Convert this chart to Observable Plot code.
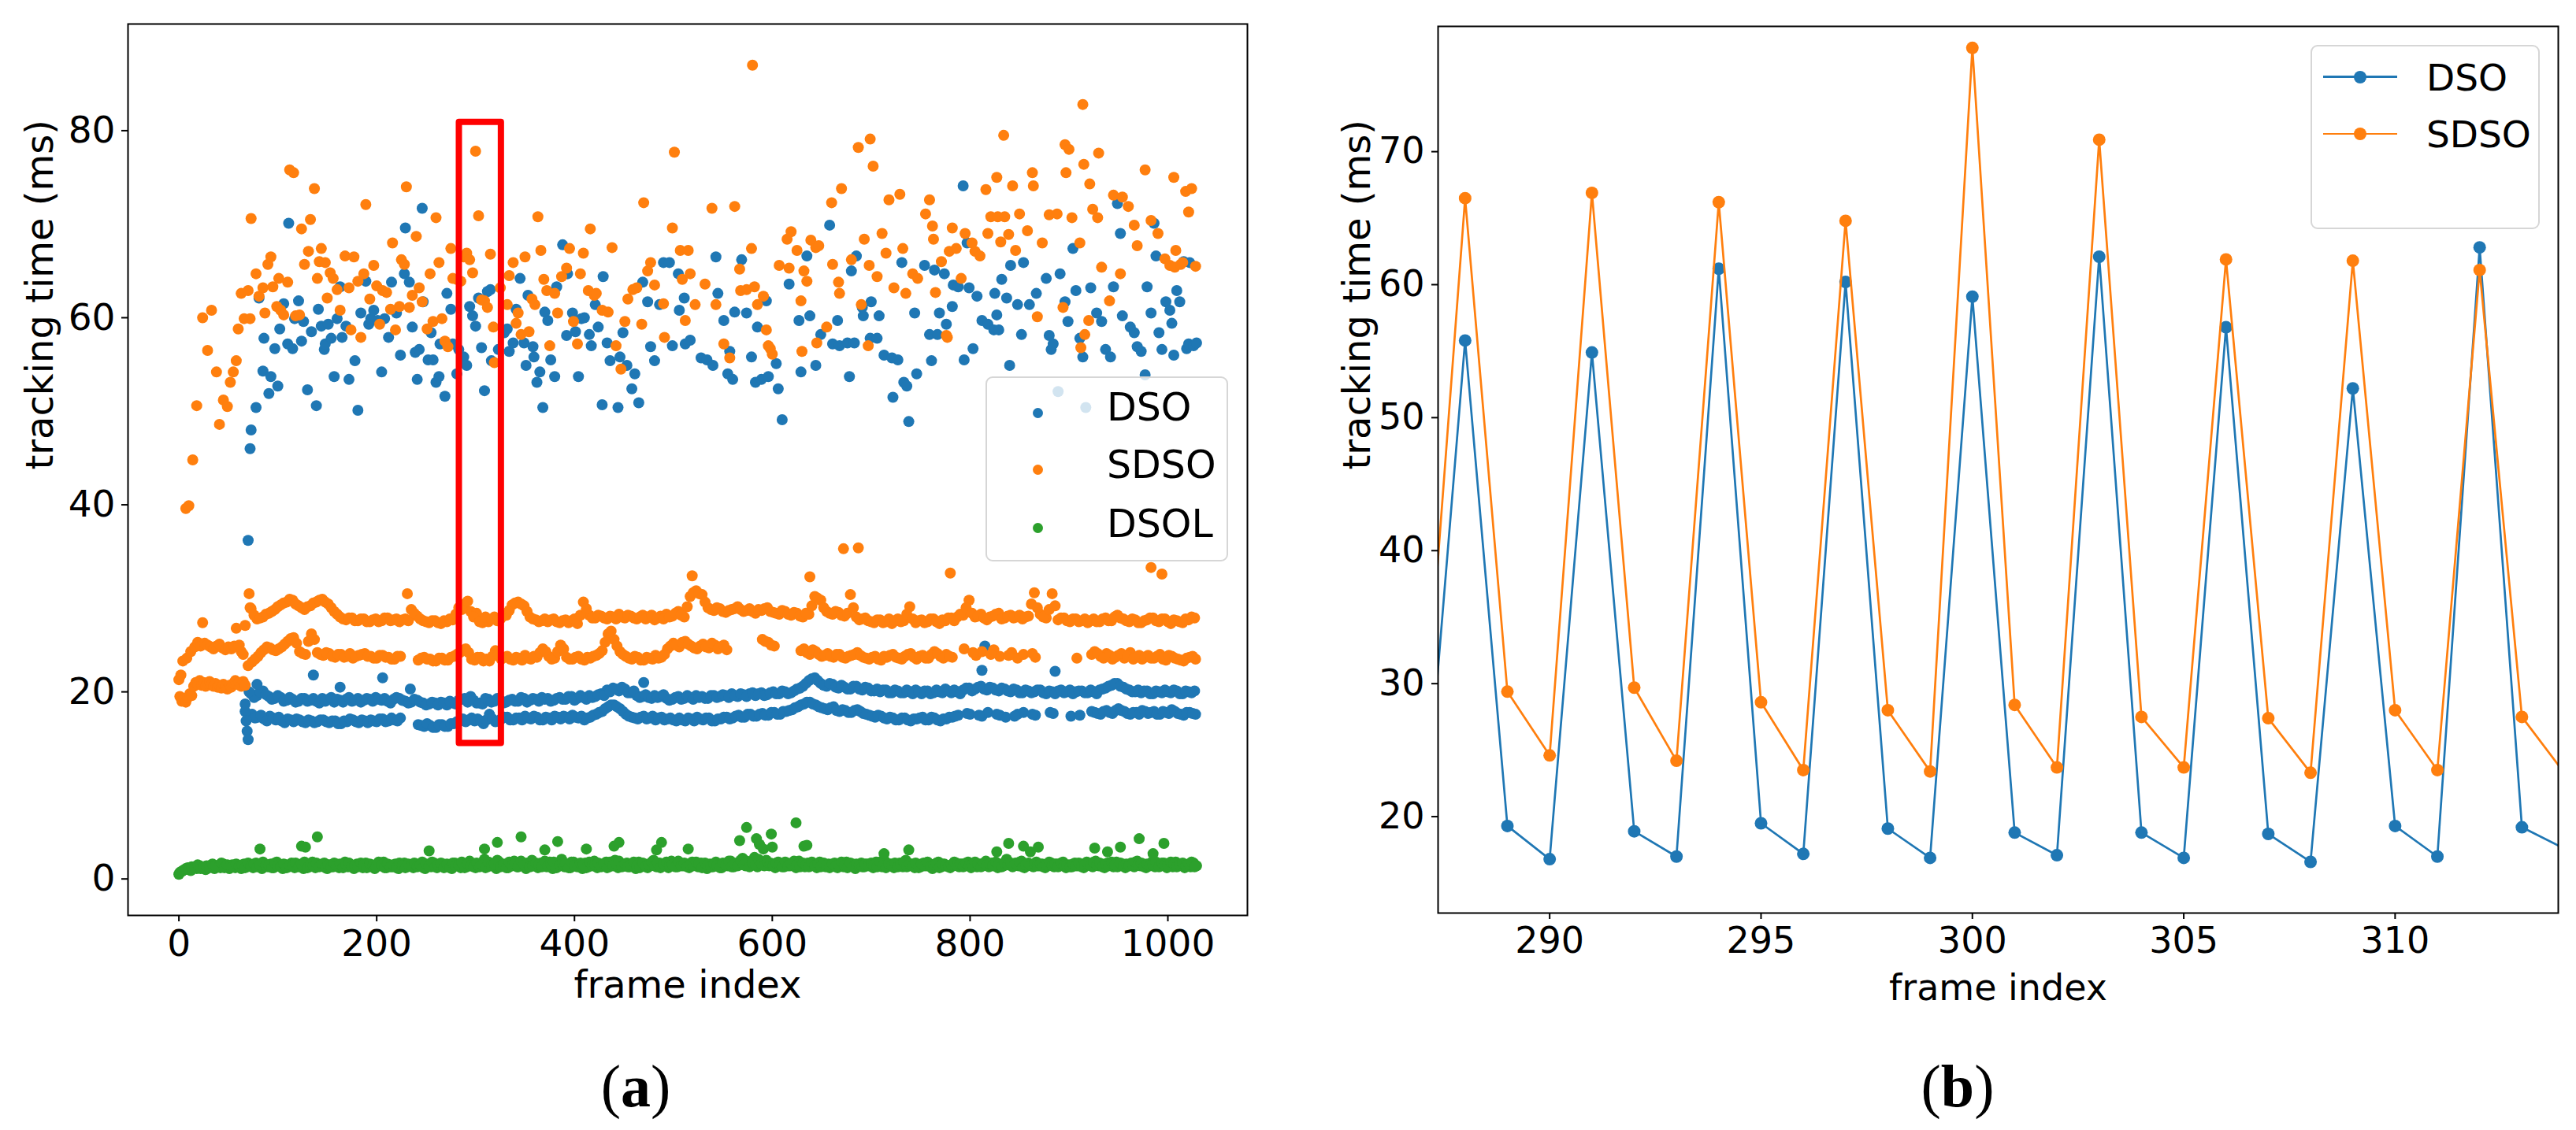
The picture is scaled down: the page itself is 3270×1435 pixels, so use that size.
<!DOCTYPE html>
<html><head><meta charset="utf-8">
<script src="https://cdn.jsdelivr.net/npm/d3@7"></script>
<script src="https://cdn.jsdelivr.net/npm/@observablehq/plot@0.6"></script>
<style>
body{margin:0;background:#fff;}
#fig{position:relative;width:3270px;height:1435px;background:#fff;font-family:"DejaVu Sans",sans-serif;overflow:hidden;}
#left,#right{position:absolute;top:0;}
#left{left:0;} #right{left:1650px;}
.box{position:absolute;box-sizing:border-box;background:rgba(255,255,255,0.8);border:2px solid #d6d6d6;border-radius:9px;}
.lt{position:absolute;line-height:1;white-space:nowrap;color:#000;}
.dot{position:absolute;border-radius:50%;}
.ln{position:absolute;}
.cap{position:absolute;width:400px;text-align:center;font-family:"Liberation Serif",serif;font-size:76px;line-height:1;color:#000;}
</style></head>
<body><div id="fig"><div id="left"></div><div id="right"></div></div>
<script>
// ---------- series meta ----------
const seriesNames = ["DSO", "SDSO", "DSOL"];
const seriesColors = ["#1f77b4", "#ff7f0e", "#2ca02c"];
const xTicksA = [0, 200, 400, 600, 800, 1000];
const yTicksA = [0, 20, 40, 60, 80];
const xTicksB = [290, 295, 300, 305, 310];
const yTicksB = [20, 30, 40, 50, 60, 70];
const zoomWindow = [{x1: 283.5, x2: 326, y1: 14.5, y2: 80.9}];

// ---------- panel (a): DSO ----------
const dsoPeaks = [[72,46.0],[73,48.0],[78,50.4],[81,62.1],[85,54.3],[86,57.8],[91,51.9],[93,53.7],[97,56.7],[100,52.7],[102,58.8],[106,61.5],[110,57.2],[111,70.1],[115,56.7],[117,59.9],[121,61.8],[124,57.5],[126,59.6],[130,52.3],[134,58.5],[139,50.6],[141,60.9],[144,59.1],[147,56.6],[148,57.2],[151,59.3],[154,57.8],[157,53.7],[160,59.9],[163,63.3],[165,57.9],[169,59.1],[172,53.4],[178,55.4],[181,50.1],[184,60.5],[189,63.9],[192,59.3],[194,59.9],[197,60.8],[201,59.7],[205,54.2],[208,59.9],[212,57.9],[215,63.8],[220,60.5],[224,56.0],[228,64.7],[229,69.6],[233,63.8],[236,59.0],[239,56.3],[241,53.4],[243,56.6],[246,71.7],[247,61.7],[252,55.5],[255,58.4],[257,55.5],[260,53.1],[263,53.7],[264,57.2],[269,51.6],[271,62.6],[275,60.9],[277,57.2],[281,54.0],[283,56.6],[286,55.4],[288,55.8],[291,54.9],[294,61.2],[297,60.2],[300,59.1],[303,62.1],[306,56.8],[309,52.2],[312,62.8],[315,63.0],[316,55.4],[323,56.6],[329,58.4],[332,58.8],[334,56.4],[338,57.3],[341,60.9],[345,64.2],[349,57.3],[351,54.9],[353,62.4],[358,56.9],[359,55.8],[362,53.1],[365,54.2],[368,50.4],[370,60.6],[373,59.7],[376,55.5],[380,53.7],[382,63.3],[388,67.8],[392,58.1],[393,64.7],[398,60.5],[401,58.5],[404,53.7],[407,59.9],[410,60.0],[415,58.2],[417,57.0],[421,61.4],[424,59.0],[428,50.7],[429,64.4],[433,57.3],[436,55.4],[444,50.4],[446,55.8],[449,58.4],[453,54.9],[458,52.4],[461,54.0],[465,50.9],[469,63.8],[474,61.7],[477,56.9],[481,55.4],[486,61.4],[490,65.9],
[496,65.9],[499,57.0],[505,64.7],[506,60.8],[511,62.1],[512,57.2],[517,57.6],[528,55.7],[534,55.5],[540,54.9],[543,66.5],[545,62.6],[551,59.7],[555,54.0],[557,56.4],[560,53.4],[562,60.6],[569,66.2],[574,60.5],[579,55.8],[583,53.1],[585,59.0],[589,53.4],[594,61.8],[596,53.7],[604,55.1],[606,52.4],[610,49.1],[617,63.6],[627,59.7],[629,54.2],[635,66.6],[638,60.2],[644,54.9],[649,58.2],[658,69.9],[661,57.2],[666,59.7],[668,57.0],[676,57.3],[678,53.7],[680,65.0],[683,57.3],[685,66.6],[691,61.1],[692,60.2],[699,57.8],[700,61.7],[706,57.8],[708,60.2],[713,56.0],[721,55.7],[722,51.5],[727,55.5],[731,65.9],[733,53.1],[736,52.7],[738,48.9],[744,60.5],[746,54.0],[754,65.6],[759,58.2],[761,55.4],[764,65.1],[767,58.2],[769,60.5],[774,64.7],[776,59.3],[782,61.2],[783,63.5],[788,63.3],[793,74.1],[794,55.5],[797,68.0],[799,63.2],[803,56.7],[807,62.3],[812,59.7],[818,59.3],[824,58.7],[825,62.6],[827,60.3],[829,58.7],[832,64.1],[837,62.1],[840,54.9],[841,65.6],[848,61.4],[852,58.2],[854,65.9],[860,61.4],[867,62.6],[877,64.2],[880,58.1],[882,56.6],[884,57.2],[889,52.1],[891,64.7],[896,61.7],[899,59.6],[904,67.4],[907,62.9],[911,57.8],[914,55.8],[917,50.4],[922,63.2],[928,60.5],[933,59.6],[937,56.6],[942,55.8],[945,63.3],[949,72.2],[952,69.0],[954,60.2],[962,59.0],[966,58.4],[969,56.9],[973,56.4],[977,53.9],[979,63.3],[983,60.5],[986,70.1],[988,66.6],[991,58.4],[994,56.6],[998,61.7],[1002,60.8],[1004,59.4],[1006,56.0],[1009,62.9],[1012,61.7],[1016,66.0],[1019,56.7],[1021,57.2],[1022,65.9],[1026,57.0],[1029,57.3]];
// middle frame of each triple: sampled at 73+6i and 76+6i
const dsoMid = [19.8,19.6,20.1,19.5,19.3,19.4,19.1,19.2,19.0,19.3,19.1,19.0,19.3,19.2,18.9,19.1,19.2,19.0,19.3,19.1,19.2,19.4,19.1,19.0,19.2,19.3,19.0,18.9,19.1,18.8,18.7,18.8,18.9,18.6,18.8,19.1,19.3,19.5,18.8,18.7,19.2,19.0,19.1,18.9,19.2,19.0,19.3,19.1,19.2,19.4,19.3,19.1,19.4,19.2,19.5,19.3,19.4,19.6,19.5,19.8,20.2,20.4,20.1,20.3,19.9,19.6,19.5,19.4,19.6,19.5,19.3,19.2,19.5,19.3,19.4,19.6,19.5,19.3,19.6,19.5,19.6,19.8,19.5,19.7,19.8,19.6,19.9,19.7,20.0,19.8,20.0,19.9,20.3,20.6,21.2,21.5,20.9,20.6,20.8,20.4,20.5,20.3,20.6,20.2,20.4,20.1,20.0,20.2,19.9,20.1,19.9,20.0,20.2,19.8,20.1,19.9,20.0,20.3,19.9,20.0,20.2,20.4,20.3,20.6,20.2,20.4,20.1,20.3,20.0,20.2,19.9,20.1,20.0,20.2,19.8,20.0,20.1,19.9,20.2,20.0,20.1,19.9,20.0,20.2,20.4,20.7,20.9,20.5,20.2,20.0,19.9,20.1,19.8,20.0,20.2,19.9,20.1,19.8,20.0,20.1];
const dsoMid2 = [19.4,20.0,19.7,19.2,19.6,19.0,19.4,18.9,19.3,19.0,19.3,18.8,19.0,19.4,19.2,18.9,19.4,19.1,18.9,19.3,19.0,19.2,19.3,18.8,19.4,19.1,18.8,19.2,18.9,18.6,18.9,18.6,18.8,19.0,18.7,19.2,18.9,19.1,18.8,19.3,18.9,19.3,18.8,19.1,19.0,19.4,18.9,19.3,19.0,19.2,19.0,19.3,19.2,19.5,19.1,19.6,19.2,19.4,19.7,19.6,20.0,20.3,20.5,19.9,20.1,19.4,19.7,19.3,19.4,19.7,19.1,19.4,19.2,19.6,19.2,19.4,19.3,19.6,19.4,19.7,19.4,19.6,19.8,19.5,19.9,19.8,19.6,19.9,19.8,20.1,19.8,20.1,20.4,20.9,21.4,21.2,20.7,20.9,20.5,20.7,20.3,20.6,20.3,20.5,20.1,20.3,20.2,19.9,20.2,19.9,20.2,19.8,20.0,20.1,19.8,20.2,19.9,20.1,20.2,19.8,20.4,20.1,20.5,20.3,20.5,20.2,20.4,20.1,20.3,19.9,20.2,19.9,20.2,19.9,20.1,19.8,20.2,20.0,19.8,20.1,19.9,20.2,19.8,20.3,20.6,20.9,20.6,20.3,20.0,20.2,20.1,19.8,20.1,19.9,20.0,20.2,19.8,20.1,19.9];
// last frame of each triple: sampled at 74+6i and 77+6i
const dsoLow = [17.6,17.3,17.1,17.4,17.0,16.9,17.1,16.8,17.0,16.7,16.9,16.8,17.0,16.7,16.9,16.6,16.8,17.0,16.7,16.9,17.0,16.8,17.1,16.9,17.0,17.2,null,null,16.5,16.3,16.4,16.2,16.5,16.3,16.6,16.9,16.8,17.2,17.1,16.6,17.6,16.8,17.1,17.3,17.0,17.2,17.4,17.1,17.3,17.0,17.2,17.4,17.1,17.3,17.5,17.2,17.0,17.3,17.6,17.9,18.4,18.6,18.2,17.6,17.3,17.1,17.4,17.2,17.0,17.3,17.1,17.0,17.2,16.9,17.1,17.3,17.0,17.2,16.9,17.1,17.3,17.2,17.5,17.3,17.6,17.4,17.7,17.5,17.8,17.6,17.9,18.1,18.4,18.7,18.9,18.6,18.3,18.1,18.4,17.9,18.0,17.8,18.1,17.7,17.5,17.3,17.4,17.1,17.2,17.0,17.2,16.9,17.1,17.3,17.0,17.2,16.9,17.1,17.3,17.5,null,17.6,null,17.4,17.8,null,17.5,17.3,null,17.6,17.8,null,17.5,null,null,17.7,null,null,17.4,null,null,null,17.8,17.6,18.0,17.7,18.2,17.9,17.6,17.8,18.0,17.7,17.9,17.6,17.8,18.1,17.7,17.5,17.8,17.6];
const dsoLow2 = [17.2,17.5,16.9,17.2,17.3,16.7,17.0,17.1,16.8,17.0,16.7,17.0,16.8,16.9,16.6,16.9,17.1,16.8,17.0,16.7,16.9,17.1,16.8,17.2,16.9,null,null,null,16.4,16.6,16.2,16.5,16.3,16.6,16.8,17.1,17.0,16.9,16.9,17.0,17.1,16.9,17.3,17.0,17.2,17.0,17.2,17.4,17.0,17.3,17.0,17.3,17.4,17.1,17.3,17.4,17.2,17.5,17.8,18.2,18.6,18.4,17.9,17.4,17.2,17.3,17.1,17.4,17.2,17.0,17.2,16.9,17.0,17.2,16.9,17.1,17.2,16.9,17.1,17.3,17.1,17.4,17.3,17.6,17.4,17.6,17.5,17.8,17.6,17.9,18.0,18.3,18.6,18.9,18.7,18.4,18.2,18.3,18.0,18.1,17.8,18.0,17.9,17.6,17.4,17.5,17.2,17.3,17.0,17.2,17.0,17.1,17.2,17.0,17.3,17.0,17.1,17.3,17.4,null,17.7,null,17.5,null,null,17.6,null,null,17.4,null,null,17.6,null,null,17.8,null,null,null,null,17.5,null,17.9,17.7,17.9,17.8,18.0,18.0,17.7,17.8,17.6,17.9,17.8,17.6,17.9,17.7,17.9,17.6,17.8,17.7];
const dsoOther = [[67,18.7],[67,17.9],[68,16.9],[69,15.8],[70,14.9],[71,20.0],[70,36.2],[79,20.8],[136,21.8],[163,20.5],[206,21.5],[234,20.3],[470,21.0],[812,22.3],[815,24.9],[886,22.2]];

// ---------- panel (a): SDSO ----------
const sdsoPeaks = [[7,39.6],[10,39.9],[14,44.8],[18,50.6],[24,60.0],[29,56.5],[33,60.8],[38,54.2],[41,48.6],[45,51.2],[49,50.5],[52,53.1],[55,54.2],[58,55.4],[60,58.8],[63,62.6],[66,59.9],[70,62.9],[72,59.9],[73,70.6],[78,64.7],[81,62.3],[85,63.2],[87,60.5],[90,65.7],[93,66.5],[95,63.3],[99,61.2],[101,64.2],[103,60.8],[106,60.3],[110,63.8],[112,75.8],[116,75.5],[118,60.2],[122,60.3],[124,69.5],[127,65.7],[131,67.1],[133,70.5],[137,73.8],[140,64.2],[142,66.0],[144,67.4],[148,65.9],[150,62.1],[153,64.8],[156,64.2],[160,63.0],[163,60.8],[168,66.6],[172,63.2],[174,58.7],[177,66.5],[181,63.9],[184,57.9],[187,64.7],[189,72.1],[193,62.0],[197,65.6],[200,63.4],[203,59.3],[206,62.9],[210,62.7],[214,60.9],[216,68.0],[219,58.7],[223,61.2],[225,66.2],[228,65.7],[230,74.0],[233,61.1],[236,62.4],[240,68.7],[243,63.2],[246,61.7],[251,58.8],[254,64.7],[257,59.6],[260,70.7],[263,65.9],[266,59.9],[269,57.5],[272,56.9],[275,67.4],[277,64.2],[281,64.1],[285,63.9],[288,66.5],[291,66.9],[294,66.2],[297,64.8],[300,77.8],[303,70.9],[306,61.9],[309,61.8],[312,61.1],[315,66.8],[318,59.0],[319,55.2],[325,63.2],[332,61.4],[334,64.5],[338,65.9],[341,59.4],[343,60.5],[346,58.2],[350,66.5],[354,58.5],[357,62.0],[360,61.4],[363,70.8],[366,67.2],[369,64.1],[372,62.9],[375,57.0],[380,62.6],[383,60.5],[387,64.4],[392,65.3],[395,67.4],[399,59.6],[403,57.2],[406,64.7],[409,66.9],[414,62.9],[416,69.5],[420,62.4],[422,62.6],[428,60.8],[434,60.6],[438,67.5],[442,57.0],[447,54.5],[451,59.6],[454,62.0],[459,63.0],[463,63.2],[468,59.3],[470,72.3],[474,65.0],[477,65.9],[481,63.5],[490,61.5],[491,57.9],
[499,69.6],[501,77.7],[507,67.2],[509,64.1],[512,59.7],[515,67.2],[517,64.7],[522,61.4],[532,63.6],[539,71.7],[543,61.4],[551,57.2],[557,55.7],[562,71.9],[567,65.2],[568,62.9],[574,63.0],[579,67.4],[580,87.0],[582,63.3],[585,61.4],[591,62.3],[594,58.7],[596,57.0],[598,56.7],[600,56.1],[607,65.6],[615,68.4],[617,65.3],[619,69.2],[625,67.2],[629,61.8],[630,56.4],[632,65.0],[635,63.9],[639,68.3],[644,67.5],[645,57.3],[647,67.7],[655,59.0],[660,72.3],[661,65.7],[667,63.8],[668,62.6],[670,73.8],[680,66.2],[687,78.2],[690,61.4],[693,68.4],[697,57.0],[698,65.6],[699,79.1],[702,76.2],[706,64.4],[711,69.0],[715,66.9],[718,72.6],[723,63.2],[729,73.2],[732,67.4],[735,62.6],[742,64.7],[747,64.2],[755,71.1],[759,72.6],[762,69.8],[763,68.4],[765,62.7],[771,66.0],[776,58.1],[777,57.9],[779,67.1],[782,69.6],[786,67.4],[791,64.2],[795,69.0],[802,68.0],[805,67.1],[810,66.6],[816,73.7],[818,69.0],[821,70.8],[827,75.0],[828,70.8],[831,68.1],[834,79.5],[835,70.8],[839,68.9],[843,74.1],[846,67.2],[850,71.1],[858,69.3],[863,75.5],[864,74.1],[868,60.1],[873,68.0],[880,71.0],[888,71.1],[894,61.1],[896,78.5],[897,75.5],[900,78.0],[903,70.7],[911,68.0],[912,56.8],[914,82.8],[915,76.4],[916,58.2],[920,59.7],[921,74.3],[924,71.6],[929,70.7],[930,77.6],[933,65.4],[941,61.8],[945,73.1],[952,64.7],[954,72.9],[960,71.9],[966,69.9],[969,67.7],[977,75.8],[983,70.4],[990,69.0],[997,66.3],[1002,65.6],[1006,75.0],[1007,65.4],[1008,67.2],[1013,65.7],[1015,65.9],[1018,73.5],[1021,71.3],[1024,73.8],[1028,65.5]];
const sdsoMid = [28.9,27.8,28.0,28.4,28.8,29.3,29.6,29.8,29.2,28.8,29.2,29.6,29.9,29.4,28.6,28.0,27.7,27.9,27.6,27.8,27.5,27.8,27.6,27.9,27.7,27.5,27.8,28.8,28.1,27.6,27.4,27.6,27.3,27.5,27.7,29.0,29.4,28.6,28.4,27.4,27.5,28.0,27.8,28.2,29.3,29.6,29.2,28.0,27.7,27.6,27.5,27.8,27.4,27.7,27.6,27.3,29.6,28.2,27.9,28.1,27.8,28.0,28.3,27.9,28.1,27.8,28.2,28.0,27.7,28.1,28.3,28.1,28.6,28.0,30.2,30.8,30.4,29.0,28.7,28.9,28.5,28.8,29.1,28.6,28.9,28.4,28.7,29.0,28.5,28.3,28.6,28.2,28.4,28.0,28.3,30.2,29.8,28.6,28.3,28.5,28.1,30.4,28.0,27.8,27.6,27.4,27.7,27.5,27.3,27.8,27.6,29.1,27.4,27.7,27.5,27.8,27.3,27.6,27.9,28.0,28.2,29.8,28.0,28.3,27.7,28.1,28.4,27.9,28.2,28.0,27.8,28.1,30.6,28.3,27.9,30.5,27.7,27.9,27.5,27.8,27.6,27.4,27.8,27.5,27.9,27.6,28.2,27.8,27.5,27.7,27.4,27.7,27.9,27.5,27.8,27.3,27.6,27.4,27.7,27.9];
const sdsoMid2 = [28.2,27.9,28.3,28.6,29.1,29.5,29.9,29.4,29.0,29.1,29.5,29.8,29.6,29.0,28.3,27.8,27.9,27.6,27.8,27.5,27.7,27.5,27.9,27.6,27.8,27.7,27.6,28.4,27.8,27.5,27.6,27.4,27.6,27.8,28.3,28.8,29.7,28.0,27.5,28.0,27.8,27.6,28.1,28.7,29.5,29.4,28.6,27.8,27.5,27.8,27.7,27.5,27.6,27.4,27.8,28.2,28.9,27.9,28.2,27.9,28.1,27.8,28.0,28.2,27.9,28.0,27.8,28.2,27.9,27.8,28.0,28.4,28.2,29.1,30.6,30.5,29.6,28.8,29.0,28.6,28.7,28.9,28.8,28.7,28.6,28.8,28.9,28.6,28.4,28.7,28.3,28.5,28.1,28.4,29.2,30.0,29.0,28.4,28.6,28.2,28.4,29.0,27.7,27.9,27.5,27.7,27.4,27.8,27.6,27.5,28.3,27.8,27.6,27.4,27.8,27.5,27.7,27.9,27.6,28.3,29.0,28.4,28.1,27.9,28.0,28.3,27.8,28.1,27.9,28.2,28.0,29.4,29.0,28.0,28.8,29.2,27.9,27.6,27.8,27.5,27.8,27.6,27.5,27.8,27.6,28.0,27.9,27.6,27.8,27.4,27.6,27.9,27.6,27.8,27.5,27.7,27.5,27.8,28.0];
const sdsoLow = [23.2,23.8,24.5,24.7,24.4,24.8,25.4,25.8,24.3,24.0,26.2,24.2,23.9,24.1,23.7,24.0,23.8,23.6,23.9,24.1,23.8,23.6,23.9,23.7,23.5,23.8,null,null,23.4,23.7,23.5,23.3,23.6,23.4,23.8,24.2,24.6,23.5,23.7,23.3,23.3,24.4,23.5,23.8,23.4,23.6,23.9,23.5,23.7,24.6,23.8,23.6,25.0,23.7,23.5,23.8,23.4,23.6,23.9,24.4,26.2,25.6,24.3,23.8,23.5,23.7,23.4,23.6,23.9,23.7,24.6,25.2,24.8,25.4,24.9,24.6,25.1,24.7,25.0,24.8,24.5,null,null,null,null,null,25.6,25.3,24.9,null,null,null,null,24.6,24.0,24.3,23.8,24.1,23.7,24.0,23.6,23.9,24.2,23.7,23.5,23.8,23.4,23.7,24.0,23.6,23.8,24.1,23.5,23.9,23.6,24.3,23.8,24.0,23.7,null,24.6,null,23.9,24.3,null,24.5,23.8,null,24.2,23.6,24.0,null,23.7,null,null,null,null,null,null,23.6,null,null,24.3,23.8,24.1,23.5,23.9,23.6,24.2,23.7,23.5,23.9,23.6,24.0,23.4,23.8,23.5,23.3,23.7,23.5];
const sdsoLow2 = [23.5,24.2,24.8,24.5,24.6,25.1,25.7,25.2,24.1,25.4,25.6,24.0,24.2,23.8,24.0,23.7,24.1,23.8,24.0,23.8,23.6,23.9,23.7,23.5,23.8,null,null,null,23.6,23.5,23.3,23.6,23.4,23.7,24.0,24.4,24.2,23.4,23.7,23.5,23.8,24.0,23.7,23.5,23.7,23.4,23.6,23.8,24.2,24.3,23.5,24.3,24.6,23.5,23.7,23.5,23.7,23.8,24.1,25.3,26.5,24.9,24.0,23.6,23.8,23.4,23.7,23.5,23.6,24.0,24.9,25.0,25.3,25.1,24.7,24.9,24.8,25.2,24.6,25.0,null,null,null,null,null,null,25.4,25.0,null,null,null,null,24.4,24.2,24.5,24.0,23.9,23.8,24.0,23.7,23.8,24.0,23.9,23.6,23.7,23.5,23.8,23.9,23.7,23.5,24.0,23.7,23.8,23.6,24.0,24.1,23.6,23.8,null,null,null,24.2,null,null,24.0,null,null,23.9,null,null,null,24.1,null,null,null,null,null,null,null,null,null,24.0,24.1,23.6,23.9,23.7,24.1,23.8,23.5,23.9,23.7,23.6,23.8,23.5,23.9,23.6,23.4,23.6,23.8];
const sdsoEarly = [[0,21.3],[1,19.5],[3,19.0],[5,19.3],[7,18.9],[9,19.4],[11,19.8],[13,19.6],[15,20.6],[17,21.0],[19,20.8],[21,21.2],[23,20.7],[25,21.0],[27,20.6],[29,20.9],[31,21.1],[33,20.8],[35,20.6],[37,20.9],[39,20.5],[41,20.7],[43,20.4],[45,20.8],[47,20.6],[49,20.3],[51,20.7],[53,20.5],[55,20.9],[57,21.2],[59,20.8],[61,21.0],[63,20.6],[65,21.1],[67,20.7],[2,21.8],[4,23.3],[8,23.6],[12,24.3],[16,24.8],[19,25.3],[22,24.9],[24,27.4],[26,25.2],[29,25.0],[32,24.8],[35,24.6],[38,24.9],[41,25.1],[44,24.7],[47,24.5],[50,24.8],[53,24.6],[56,24.9],[58,26.8],[61,25.0],[63,24.3],[65,24.0],[67,27.1],[70,22.8],[71,30.5],[72,29.0]];
const sdsoOther = [[231,30.5],[519,32.4],[638,32.3],[672,35.3],[687,35.4],[780,32.7],[983,33.3],[994,32.6]];

// ---------- panel (a): DSOL (frames 3i and 1+3i) ----------
const dsolVals = [0.5,0.8,1.0,1.2,0.9,1.3,1.1,1.4,1.2,1.0,1.3,1.5,1.1,1.4,1.2,1.6,1.3,1.1,1.5,1.2,1.4,1.1,1.6,1.3,1.5,1.2,1.7,1.4,1.1,1.5,1.3,1.6,1.2,1.8,1.4,1.1,1.5,1.3,1.7,1.2,1.5,1.4,1.1,1.6,1.3,1.8,1.2,1.5,1.4,1.7,1.1,1.5,1.3,1.6,1.2,1.4,1.8,1.3,1.5,1.1,1.6,1.4,1.2,1.7,1.3,1.5,1.1,1.6,1.4,1.8,1.2,1.5,1.3,1.6,1.1,1.4,1.7,1.3,1.5,1.2,1.6,1.4,1.8,1.1,1.5,1.3,1.7,1.2,1.4,1.6,1.3,1.5,1.1,1.7,1.4,1.2,1.6,1.3,1.9,1.5,1.2,1.6,1.4,2.1,1.3,1.7,1.5,1.1,1.8,1.4,1.6,1.2,1.5,1.9,1.3,1.7,1.4,1.1,1.6,2.0,1.4,1.2,1.7,1.5,1.3,1.8,1.1,1.6,1.4,2.1,1.3,1.5,1.2,1.8,1.6,1.4,1.1,1.7,1.3,1.5,1.9,1.2,1.6,1.4,1.8,1.3,1.5,2.0,1.2,1.6,1.4,1.7,1.3,1.5,1.1,1.8,1.4,1.6,1.2,1.5,2.0,1.3,1.7,1.4,1.6,1.2,1.9,1.5,1.3,1.7,1.4,1.6,1.2,1.8,1.5,1.3,1.7,1.4,1.1,1.6,1.3,1.8,1.5,1.2,1.6,1.4,1.9,1.3,1.7,1.5,2.2,1.4,1.8,1.6,2.3,1.3,1.7,1.5,2.0,1.4,1.6,1.2,1.8,1.5,1.3,1.7,1.4,1.6,1.2,1.9,1.5,1.3,1.7,1.4,1.6,1.2,1.8,1.5,1.3,1.6,1.4,1.7,1.2,1.5,1.3,1.8,1.4,1.6,1.1,1.5,1.7,1.3,1.6,1.4,1.2,1.8,1.5,1.3,1.9,1.4,1.6,1.2,1.5,1.7,1.3,2.0,1.4,1.6,1.2,1.5,1.3,1.7,1.4,1.6,1.1,1.5,1.8,1.3,1.6,1.4,1.2,1.5,1.7,1.3,1.6,1.4,1.8,1.2,1.5,1.3,1.6,1.4,1.9,1.3,1.7,1.5,1.2,1.6,1.4,2.1,1.5,1.3,1.7,1.4,1.9,1.2,1.6,1.5,1.3,1.8,1.4,1.6,1.2,1.5,1.7,1.3,1.6,1.4,1.8,1.2,1.5,1.3,1.7,1.4,1.6,1.2,1.8,1.5,1.3,1.9,1.4,1.6,1.2,1.7,1.5,1.3,1.8,1.4,1.6,1.2,1.5,1.7,1.3,1.9,1.4,1.6,1.2,1.5,1.8,1.3,1.6,1.4,1.7,1.2,1.5,1.3,1.8,1.4,1.6,1.2,1.5,1.3,1.7,1.4];
const dsolVals2 = [0.7,0.9,1.1,1.0,1.3,1.2,1.5,1.1,1.3,1.4,1.2,1.6,1.4,1.3,1.7,1.2,1.5,1.4,1.3,1.6,1.3,1.5,1.2,1.7,1.4,1.6,1.3,1.5,1.8,1.4,1.5,1.2,1.7,1.4,1.3,1.6,1.2,1.5,1.4,1.7,1.3,1.6,1.8,1.2,1.5,1.4,1.7,1.3,1.6,1.2,1.5,1.3,1.7,1.4,1.6,1.2,1.5,1.7,1.3,1.4,1.3,1.7,1.5,1.2,1.6,1.4,1.3,1.8,1.5,1.2,1.6,1.3,1.5,1.2,1.7,1.4,1.2,1.6,1.4,1.7,1.3,1.5,1.2,1.6,1.4,1.8,1.3,1.5,1.7,1.2,1.6,1.2,1.7,1.4,1.5,1.8,1.2,1.6,1.4,1.3,1.7,1.3,1.5,1.2,1.8,1.4,1.6,2.0,1.3,1.5,1.2,1.8,1.4,1.6,1.3,1.9,1.5,1.7,1.3,1.4,1.7,1.5,1.3,1.9,1.4,1.6,1.8,1.2,1.5,1.6,1.6,1.2,1.8,1.4,1.3,1.7,1.5,1.2,1.8,1.4,1.5,1.7,1.3,1.6,1.2,1.8,1.4,1.6,1.9,1.3,1.6,1.3,1.5,1.8,1.4,1.2,1.7,1.3,1.5,1.8,1.4,1.7,1.2,1.6,1.8,1.4,1.5,1.3,1.9,1.4,1.7,1.3,1.5,1.4,1.8,1.6,1.2,1.7,1.5,1.3,1.6,1.4,1.2,1.7,1.5,1.9,1.3,1.6,1.4,2.0,1.5,1.9,1.3,1.7,1.5,2.1,1.6,1.4,1.8,1.7,1.4,1.7,1.5,1.3,1.8,1.4,1.6,1.9,1.5,1.3,1.7,1.5,1.3,1.8,1.4,1.6,1.3,1.7,1.5,1.2,1.6,1.3,1.5,1.8,1.4,1.2,1.7,1.3,1.6,1.4,1.3,1.6,1.4,1.7,1.5,1.3,1.8,1.4,1.2,1.6,1.4,1.7,1.3,1.5,1.8,1.3,1.6,1.4,1.7,1.2,1.6,1.4,1.8,1.3,1.5,1.7,1.2,1.6,1.4,1.3,1.5,1.8,1.4,1.6,1.3,1.7,1.4,1.5,1.8,1.6,1.3,1.7,1.5,1.6,1.4,1.8,1.5,1.3,1.7,1.5,1.7,1.4,1.6,1.8,1.3,1.5,1.7,1.4,1.6,1.4,1.6,1.3,1.5,1.8,1.4,1.6,1.3,1.7,1.5,1.4,1.3,1.6,1.4,1.7,1.3,1.5,1.6,1.4,1.8,1.5,1.7,1.3,1.6,1.4,1.8,1.5,1.3,1.7,1.4,1.6,1.4,1.6,1.8,1.5,1.7,1.3,1.6,1.4,1.5,1.8,1.3,1.7,1.5,1.4,1.8,1.6,1.3,1.5,1.7,1.4,1.6,1.8,1.3];
const dsolOther = [[82,3.2],[124,3.5],[128,3.4],[140,4.5],[253,3.0],[309,3.2],[322,3.9],[346,4.5],[370,3.1],[383,4.0],[412,3.2],[440,3.5],[445,3.9],[483,3.1],[488,3.9],[515,3.2],[567,4.1],[574,5.5],[584,4.3],[587,3.7],[591,3.2],[599,4.8],[600,3.4],[624,6.0],[632,3.5],[635,3.6],[713,2.7],[738,3.1],[827,2.9],[839,3.8],[854,3.5],[861,2.9],[869,3.4],[926,3.3],[939,2.9],[952,3.4],[971,4.3],[985,2.7],[996,3.8]];

// ---------- panel (b): frames 287..314 ----------
const framesB = d3.range(287, 315);
const dsoB = [17.3,55.8,19.3,16.8,54.9,18.9,17.0,61.2,19.5,17.2,60.2,19.1,16.9,59.1,18.8,17.1,62.1,18.8,16.9,56.8,18.7,16.6,52.2,19.3,17.0,62.8,19.2,17.6];
const sdsoB = [24.2,66.5,29.4,24.6,66.9,29.7,24.2,66.2,28.6,23.5,64.8,28.0,23.4,77.8,28.4,23.7,70.9,27.5,23.7,61.9,27.4,23.3,61.8,28.0,23.5,61.1,27.5,23.3];

// ---------- build tables ----------
const fromPairs = (a) => a.map(([f, v]) => ({frame: f, ms: v}));
const fromStep = (vals, start, step) => vals.map((v, i) => ({frame: start + step * i, ms: v})).filter(d => d.ms != null);
const dsoA = [...fromPairs(dsoPeaks), ...fromStep(dsoMid, 73, 6), ...fromStep(dsoMid2, 76, 6), ...fromStep(dsoLow, 74, 6), ...fromStep(dsoLow2, 77, 6), ...fromPairs(dsoOther)];
const sdsoA = [...fromPairs(sdsoPeaks), ...fromStep(sdsoMid, 73, 6), ...fromStep(sdsoMid2, 76, 6), ...fromStep(sdsoLow, 74, 6), ...fromStep(sdsoLow2, 77, 6), ...fromPairs(sdsoEarly), ...fromPairs(sdsoOther)];
const dsolA = [...fromStep(dsolVals, 0, 3), ...fromStep(dsolVals2, 1, 3), ...fromPairs(dsolOther)];
const rowsB = (vals) => framesB.map((f, i) => ({frame: f, ms: vals[i]}));

const FONT = "DejaVu Sans";
const axisCommon = {tickSize: 8, strokeWidth: 2, label: null, tickFormat: d => String(d)};
const R = 7;

const left = Plot.plot({
  width: 1650, height: 1435,
  marginLeft: 162, marginRight: 67, marginTop: 30, marginBottom: 273,
  style: {fontFamily: FONT, background: "transparent", color: "#000"},
  x: {domain: [-51.45, 1080.45]},
  y: {domain: [-3.9, 91.4]},
  marks: [
    Plot.dot(dsoA, {x: "frame", y: "ms", r: R, fill: seriesColors[0]}),
    Plot.dot(sdsoA, {x: "frame", y: "ms", r: R, fill: seriesColors[1]}),
    Plot.dot(dsolA, {x: "frame", y: "ms", r: R, fill: seriesColors[2]}),
    Plot.rect(zoomWindow, {x1: "x1", x2: "x2", y1: "y1", y2: "y2", fill: "none", stroke: "#ff0000", strokeWidth: 8, strokeLinejoin: "round"}),
    Plot.frame({stroke: "#000", strokeWidth: 2}),
    Plot.axisX({...axisCommon, ticks: xTicksA, tickPadding: 10, fontSize: 47}),
    Plot.axisY({...axisCommon, ticks: yTicksA, tickPadding: 8, fontSize: 47}),
    Plot.text(["frame index"], {text: d => d, frameAnchor: "bottom", dy: 104, fontSize: 48}),
    Plot.text(["tracking time (ms)"], {text: d => d, frameAnchor: "left", dx: -111, rotate: -90, fontSize: 48})
  ]
});
document.getElementById("left").appendChild(left);

const right = Plot.plot({
  width: 1620, height: 1435,
  marginLeft: 175, marginRight: 23, marginTop: 33, marginBottom: 276,
  style: {fontFamily: FONT, background: "transparent", color: "#000"},
  x: {domain: [287.36, 313.86]},
  y: {domain: [12.75, 79.42]},
  marks: [
    Plot.line(rowsB(dsoB), {x: "frame", y: "ms", stroke: seriesColors[0], strokeWidth: 2.7, clip: true}),
    Plot.dot(rowsB(dsoB), {x: "frame", y: "ms", r: 8, fill: seriesColors[0], clip: true}),
    Plot.line(rowsB(sdsoB), {x: "frame", y: "ms", stroke: seriesColors[1], strokeWidth: 2.7, clip: true}),
    Plot.dot(rowsB(sdsoB), {x: "frame", y: "ms", r: 8, fill: seriesColors[1], clip: true}),
    Plot.frame({stroke: "#000", strokeWidth: 2}),
    Plot.axisX({...axisCommon, ticks: xTicksB, tickPadding: 10, fontSize: 46}),
    Plot.axisY({...axisCommon, ticks: yTicksB, tickPadding: 9, fontSize: 46}),
    Plot.text(["frame index"], {text: d => d, frameAnchor: "bottom", dy: 110, fontSize: 46}),
    Plot.text(["tracking time (ms)"], {text: d => d, frameAnchor: "left", dx: -102, rotate: -90, fontSize: 48})
  ]
});
document.getElementById("right").appendChild(right);

// ---------- legends & captions (HTML overlays) ----------
const fig = document.getElementById("fig");
function el(cls, css, txt) {
  const e = document.createElement("div");
  e.className = cls;
  Object.assign(e.style, css);
  if (txt != null) e.innerHTML = txt;
  fig.appendChild(e);
  return e;
}
// legend (a)
el("box", {left: "1251px", top: "478px", width: "308px", height: "235px"});
const legAText = [517, 590, 665], legAMark = [524, 596, 670];
seriesNames.forEach((n, i) => {
  el("dot", {left: (1317 - 6.5) + "px", top: (legAMark[i] - 6.5) + "px", width: "13px", height: "13px", background: seriesColors[i]});
  el("lt", {left: "1405px", top: (legAText[i] - 0.4815 * 49) + "px", fontSize: "49px"}, n);
});
// legend (b)
el("box", {left: "2933px", top: "57px", width: "291px", height: "234px"});
const legBY = [97.7, 170];
seriesNames.slice(0, 2).forEach((n, i) => {
  el("ln", {left: "2949px", top: (legBY[i] - 1.35) + "px", width: "94px", height: "2.7px", background: seriesColors[i]});
  el("dot", {left: (2996 - 8) + "px", top: (legBY[i] - 8) + "px", width: "16px", height: "16px", background: seriesColors[i]});
  el("lt", {left: "3080px", top: (legBY[i] - 0.4815 * 47) + "px", fontSize: "47px"}, n);
});
// captions
el("cap", {left: (807 - 200) + "px", top: "1341px"}, "(<b>a</b>)");
el("cap", {left: (2485 - 200) + "px", top: "1341px"}, "(<b>b</b>)");
</script>
</body></html>
